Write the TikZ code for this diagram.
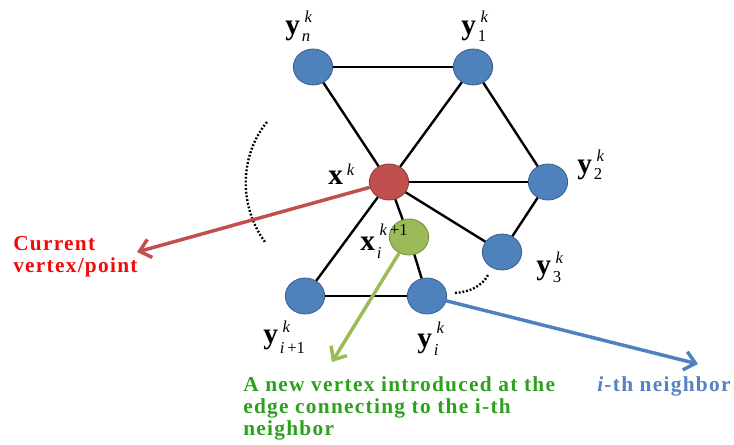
\documentclass[tikz,border=0pt]{standalone}
\usepackage{fontspec}
\setmainfont{Liberation Serif}
\usetikzlibrary{arrows.meta,shapes.geometric}
\definecolor{nblue}{RGB}{79,129,189}
\definecolor{nbluedk}{RGB}{56,93,138}
\definecolor{nred}{RGB}{192,80,77}
\definecolor{nreddk}{RGB}{140,56,54}
\definecolor{ngreen}{RGB}{155,187,89}
\definecolor{ngreendk}{RGB}{113,137,63}
\definecolor{tred}{RGB}{240,10,10}
\definecolor{tgreen}{RGB}{45,160,30}
\definecolor{tblue}{RGB}{85,130,195}
\newcommand{\scr}{\fontsize{12.5}{13}\selectfont}
% letter, sup, sub, raise, lower
\newcommand{\vl}[5]{\textbf{#1}\hspace{1.5pt}\rlap{\raisebox{#4}{\hspace{2pt}\scr #2}}\raisebox{-#5}{\scr #3}}
\tikzset{
  vert/.style={ellipse, draw=nbluedk, line width=0.6pt, fill=nblue, minimum width=29.5pt, minimum height=27pt, inner sep=0pt},
  edge/.style={line width=1.8pt, black},
  lab/.style={font=\fontsize{22}{24}\selectfont, inner sep=0pt, anchor=base west},
  note/.style={font=\fontsize{16}{16.5}\selectfont\bfseries\addfontfeature{LetterSpace=6}, align=left, inner sep=0pt, anchor=north west},
  callout/.style={line width=2.6pt, -{Straight Barb[length=8pt,width=14pt,line width=2.6pt]}},
  dots/.style={line width=1.8pt, dash pattern=on 1.4pt off 1.4pt}
}
\begin{document}
\begin{tikzpicture}[x=0.75pt,y=-0.75pt]
\useasboundingbox (0,0) rectangle (734,445);
% nodes
\node[vert] (yn) at (313,67) {};
\node[vert] (y1) at (473,67) {};
\node[vert, draw=nreddk, fill=nred] (x) at (389,182) {};
\node[vert] (y2) at (548,182) {};
\node[vert] (y3) at (502,252) {};
\node[vert] (yip) at (305,296) {};
\node[vert] (yi) at (427,296) {};
\node[vert, draw=ngreendk, fill=ngreen] (g) at (409,237) {};
% edges
\draw[edge] (yn) -- (y1);
\draw[edge] (yn) -- (x);
\draw[edge] (y1) -- (x);
\draw[edge] (y1) -- (y2);
\draw[edge] (x) -- (y2);
\draw[edge] (y2) -- (y3);
\draw[edge] (x) -- (y3);
\draw[edge] (x) -- (g);
\draw[edge] (g) -- (yi);
\draw[edge] (x) -- (yip);
\draw[edge] (yip) -- (yi);
% dotted arcs
\coordinate (d1a) at (267,122);
\coordinate (d1b) at (265,242);
\draw[dots] (d1a) .. controls (240,155) and (238,205) .. (d1b);
\coordinate (d2a) at (455,293);
\coordinate (d2b) at (488,275);
\draw[dots] (d2a) .. controls (470,292) and (482,286) .. (d2b);
% labels
\node[lab] (lyn) at (285,35) {\vl{y}{\textit{k}}{\textit{n}}{9pt}{5pt}};
\node[lab] (ly1) at (461,35) {\vl{y}{\textit{k}}{1}{9pt}{5pt}};
\node[lab] (ly2) at (577,174) {\vl{y}{\textit{k}}{2}{9.5pt}{4.5pt}};
\node[lab] (ly3) at (536,274) {\vl{y}{\textit{k}}{3}{8pt}{6pt}};
\node[lab] (lx) at (328,185) {\textbf{x}\hspace{3pt}\raisebox{7pt}{\scr\textit{k}}};
\node[lab] (lg) at (360,250) {\vl{x}{\textit{k}\,+1}{\textit{i}}{11pt}{6pt}};
\node[lab] (lyip) at (263,343) {\vl{y}{\textit{k}}{\textit{i}\,+1}{8pt}{7.5pt}};
\node[lab] (lyi) at (417,347) {\vl{y}{\textit{k}}{\textit{i}}{10.5pt}{6pt}};
% notes
\node[note, text=tred] (n1) at (13,236) {Current\\vertex/point};
\node[note, text=tgreen] (n2) at (243,376) {A new vertex introduced at the\\edge connecting to the i-th\\neighbor};
\node[note, text=tblue] (n3) at (597,376) {\textit{i}-th neighbor};
% callouts
\coordinate (tr) at (137,252);
\coordinate (tg) at (332,362);
\coordinate (tb) at (698,364);
\draw[callout, nred] (x) -- (tr);
\draw[callout, ngreen] (g) -- (tg);
\draw[callout, nblue] (yi) -- (tb);
\end{tikzpicture}
\end{document}
